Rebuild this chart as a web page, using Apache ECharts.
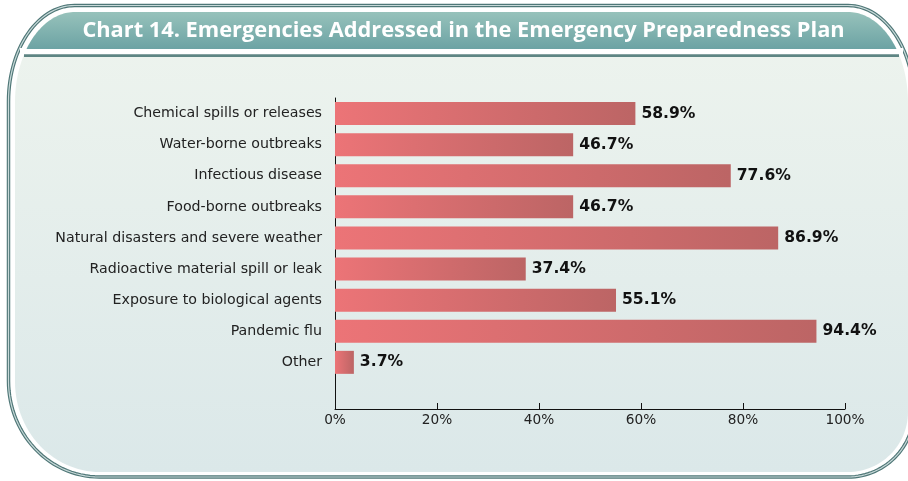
<!DOCTYPE html>
<html>
<head>
<meta charset="utf-8">
<script src="https://cdn.jsdelivr.net/npm/echarts@6/dist/echarts.min.js"></script>
<style>
html,body{margin:0;padding:0;background:#fff;}
#chart{width:908px;height:481px;}
</style>
</head>
<body>
<div id="chart"></div>
<script>
const titleText = 'Chart 14. Emergencies Addressed in the Emergency Preparedness Plan';
const categories = [
  'Chemical spills or releases',
  'Water-borne outbreaks',
  'Infectious disease',
  'Food-borne outbreaks',
  'Natural disasters and severe weather',
  'Radioactive material spill or leak',
  'Exposure to biological agents',
  'Pandemic flu',
  'Other',
  ''
];
const values = [58.9, 46.7, 77.6, 46.7, 86.9, 37.4, 55.1, 94.4, 3.7, null];
const xTicks = [0, 20, 40, 60, 80, 100];

const chart = echarts.init(document.getElementById('chart'), null, {renderer: 'canvas'});

function lin(x, y, x2, y2, c0, c1) {
  return {type: 'linear', x: x, y: y, x2: x2, y2: y2, global: false,
    colorStops: [{offset: 0, color: c0}, {offset: 1, color: c1}]};
}

function arc(cx, cy, rx, ry, a0, a1, n) {
  const pts = [];
  for (let i = 0; i <= n; i++) {
    const a = (a0 + (a1 - a0) * i / n) * Math.PI / 180;
    pts.push([cx + rx * Math.cos(a), cy + ry * Math.sin(a)]);
  }
  return pts;
}

function roundedPoly(L, T, R, B, trx, tr_y, blx, bly, brx, bry) {
  let pts = [];
  pts = pts.concat(arc(L + trx, T + tr_y, trx, tr_y, 180, 270, 30));
  pts = pts.concat(arc(R - trx, T + tr_y, trx, tr_y, 270, 360, 30));
  pts = pts.concat(arc(R - brx, B - bry, brx, bry, 0, 90, 30));
  pts = pts.concat(arc(L + blx, B - bly, blx, bly, 90, 180, 30));
  return pts;
}

function titleBarPoly(L, T, R, rx, ry, yb) {
  const cyT = T + ry;
  const a0 = Math.asin((cyT - yb) / ry) * 180 / Math.PI;
  const ptsL = [];
  for (let i = 0; i <= 30; i++) {
    const a = (180 + a0 + (90 - a0) * i / 30) * Math.PI / 180;
    ptsL.push([L + rx + rx * Math.cos(a), cyT + ry * Math.sin(a)]);
  }
  const ptsR = ptsL.map(function (p) { return [L + R - p[0], p[1]]; }).reverse();
  return ptsL.concat(ptsR);
}

const outerPts = roundedPoly(8.5, 5.5, 914, 477, 66, 96, 91, 96, 66, 66);
const panelPts = roundedPoly(15, 12, 908, 472, 60, 90, 85, 90, 60, 60);
const titlePts = titleBarPoly(15, 12, 908, 60, 90, 49);

const option = {
  animation: false,
  graphic: [
    {type: 'polygon', z: -20, shape: {points: outerPts}, style: {fill: 'none', stroke: '#4f7777', lineWidth: 3.5}},
    {type: 'polygon', z: -19, shape: {points: outerPts}, style: {fill: 'none', stroke: '#c8d9d9', lineWidth: 1.2}},
    {type: 'polygon', z: -18, shape: {points: panelPts}, style: {
      fill: lin(0, 0, 0, 1, '#eef4ee', '#dbe8e9'), stroke: 'none'}},
    {type: 'rect', z: -17, shape: {x: 20, y: 48, width: 883, height: 7}, style: {fill: '#ffffff'}},
    {type: 'polygon', z: -16, shape: {points: titlePts}, style: {
      fill: lin(0, 0, 0, 1, '#97c2bb', '#6ca3a4'), stroke: 'none'}},
    {type: 'rect', z: -15, shape: {x: 24, y: 54.3, width: 875, height: 2.7}, style: {fill: '#5e8583'}},
    {type: 'text', z: 10, x: 463.5, y: 30.5, style: {
      text: titleText, fill: '#ffffff', align: 'center', verticalAlign: 'middle',
      font: 'bold 21.8px "Open Sans"'}}
  ],
  grid: {left: 335, right: 63, top: 98, bottom: 72, containLabel: false},
  xAxis: {
    type: 'value', min: 0, max: 100, interval: 20,
    axisLine: {show: true, lineStyle: {color: '#111', width: 1}},
    axisTick: {show: true, inside: true, length: 6, lineStyle: {color: '#111'}},
    splitLine: {show: false},
    axisLabel: {
      margin: 4, color: '#222', fontFamily: 'DejaVu Sans', fontSize: 13.7,
      formatter: function (v) { return xTicks.indexOf(v) >= 0 ? v + '%' : ''; }
    }
  },
  yAxis: {
    type: 'category', data: categories, inverse: true,
    axisLine: {show: true, lineStyle: {color: '#111', width: 1}},
    axisTick: {show: false},
    axisLabel: {margin: 13, color: '#222', fontFamily: 'DejaVu Sans', fontSize: 14.2}
  },
  series: [{
    type: 'bar',
    data: values,
    barWidth: 23,
    itemStyle: {
      color: lin(0, 0, 1, 0, '#ec7477', '#bc6565')
    },
    label: {
      show: true, position: 'right', distance: 6,
      color: '#111', fontFamily: 'DejaVu Sans', fontWeight: 'bold', fontSize: 15.6,
      formatter: function (p) { return p.value == null ? '' : p.value.toFixed(1) + '%'; }
    }
  }]
};
chart.setOption(option);
</script>
</body>
</html>
